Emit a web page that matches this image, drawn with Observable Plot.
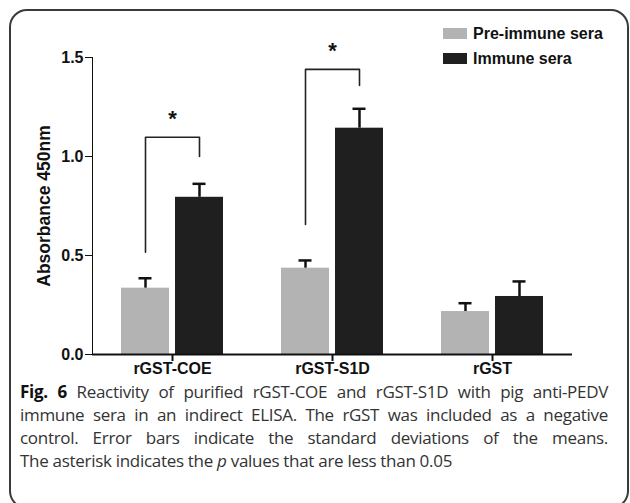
<!DOCTYPE html>
<html><head><meta charset="utf-8">
<script src="https://cdn.jsdelivr.net/npm/d3@7"></script>
<script src="https://cdn.jsdelivr.net/npm/@observablehq/plot@0.6"></script>
<style>
html,body{margin:0;padding:0;background:#fff;}
body{width:630px;height:503px;overflow:hidden;position:relative;font-family:"Liberation Sans",Arial,sans-serif;}
#frame{position:absolute;left:9px;top:9px;width:620px;height:500px;box-sizing:border-box;border:2px solid #3a3a3a;border-radius:18px;}
#chart{position:absolute;left:0;top:0;}
#chart svg g[aria-label="y-axis label"] text{font-size:17.5px;}
#legend{position:absolute;left:443px;top:21px;font-weight:bold;font-size:16px;color:#111;}
#legend .row{display:flex;align-items:center;height:25px;}
#legend .sw{width:24px;height:11px;margin-right:6px;box-sizing:border-box;}
#caption{position:absolute;left:20px;top:380px;width:588px;font-family:"Open Sans",sans-serif;font-size:17px;letter-spacing:-0.3px;line-height:23px;color:#333;}
#caption span{display:block;text-align:justify;text-align-last:justify;white-space:nowrap;}
#caption span.last{text-align-last:left;}
#caption b{color:#111;}
</style>
</head><body>
<div id="frame"></div>
<div id="chart"></div>
<div id="legend"></div>
<div id="caption"></div>
<script>
const categories = ["rGST-COE", "rGST-S1D", "rGST"];
const seriesNames = ["Pre-immune sera", "Immune sera"];
const seriesColors = ["#b3b3b3", "#1f1f1f"];
const preValues = [0.335, 0.436, 0.217];
const preSD = [0.05, 0.039, 0.042];
const immuneValues = [0.794, 1.143, 0.293];
const immuneSD = [0.068, 0.098, 0.076];
const bracketTop = [1.097, 1.44, null];
const bracketPreBottom = [0.517, 0.657, null];
const bracketImmuneBottom = [1.0, 1.359, null];
const starY = [1.19, 1.535, null];
const yTicks = [0, 0.5, 1.0, 1.5];
const captionLines = [
  ["Fig. 6", " Reactivity of purified rGST-COE and rGST-S1D with pig anti-PEDV"],
  ["", "immune sera in an indirect ELISA. The rGST was included as a negative"],
  ["", "control. Error bars indicate the standard deviations of the means."],
  ["", "The asterisk indicates the <i>p</i> values that are less than 0.05"]
];

const rows = [];
categories.forEach((c, i) => {
  rows.push({category: c, series: seriesNames[0], value: preValues[i], sd: preSD[i]});
  rows.push({category: c, series: seriesNames[1], value: immuneValues[i], sd: immuneSD[i]});
});
const bracket = [];
categories.forEach((c, i) => {
  if (bracketTop[i] == null) return;
  bracket.push({category: c, series: seriesNames[0], y: bracketPreBottom[i]});
  bracket.push({category: c, series: seriesNames[0], y: bracketTop[i]});
  bracket.push({category: c, series: seriesNames[1], y: bracketTop[i]});
  bracket.push({category: c, series: seriesNames[1], y: bracketImmuneBottom[i]});
});
const stars = categories.map((c, i) => ({category: c, y: starY[i]})).filter(d => d.y != null);

const chart = Plot.plot({
  width: 630,
  height: 385,
  marginLeft: 92,
  marginRight: 58,
  marginTop: 57,
  marginBottom: 31,
  style: {fontSize: "16px", fontWeight: "bold", fontFamily: "'Liberation Sans', Arial, sans-serif", color: "#111", background: "transparent"},
  fx: {domain: categories, padding: 0, axis: null},
  x: {domain: seriesNames, axis: null, paddingInner: 0.11, paddingOuter: 0.51},
  y: {domain: [0, 1.5], ticks: yTicks, tickSize: 7, tickPadding: 2, tickFormat: d3.format(".1f"),
      label: "Absorbance 450nm", labelAnchor: "center", labelArrow: false, labelOffset: 55, line: true},
  color: {domain: seriesNames, range: seriesColors},
  marks: [
    Plot.axisFx({anchor: "bottom", tickSize: 7, tickPadding: 1, label: null, strokeWidth: 2}),
    Plot.barY(rows, {fx: "category", x: "series", y: "value", fill: "series"}),
    Plot.ruleX(rows, {fx: "category", x: "series", y1: "value", y2: d => d.value + d.sd, stroke: "#111", strokeWidth: 2.5}),
    Plot.tickY(rows, {fx: "category", x: "series", y: d => d.value + d.sd, stroke: "#111", strokeWidth: 2.5, insetLeft: 17.5, insetRight: 17.5}),
    Plot.line(bracket, {fx: "category", x: "series", y: "y", z: "category", stroke: "#222", strokeWidth: 1.6}),
    Plot.text(stars, {fx: "category", y: "y", text: () => "*", frameAnchor: "middle", fontSize: 22, fill: "#111"}),
    Plot.ruleY([0], {stroke: "#111", strokeWidth: 2})
  ]
});
document.getElementById("chart").appendChild(chart);

const legend = document.getElementById("legend");
seriesNames.forEach((s, i) => {
  const row = document.createElement("div");
  row.className = "row";
  row.innerHTML = `<div class="sw" style="background:${seriesColors[i]}"></div><span>${s}</span>`;
  legend.appendChild(row);
});

const cap = document.getElementById("caption");
captionLines.forEach((l, i) => {
  const sp = document.createElement("span");
  if (i === captionLines.length - 1) sp.className = "last";
  sp.innerHTML = (l[0] ? `<b>${l[0]}</b>` : "") + l[1];
  cap.appendChild(sp);
});
</script>
</body></html>
